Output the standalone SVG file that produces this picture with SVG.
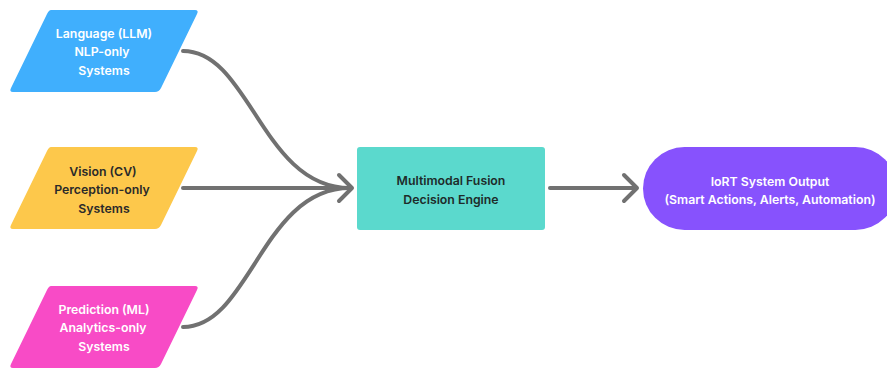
<svg xmlns="http://www.w3.org/2000/svg" width="887" height="368" viewBox="0 0 887 368">
<style>
.t{font-family:Inter,"Liberation Sans",sans-serif;font-size:12.3px;font-weight:600;text-anchor:middle;dominant-baseline:central}
.w{fill:#ffffff}.d{fill:#2a2a2a}
.c{fill:none;stroke:#717171;stroke-width:4;stroke-linecap:round;stroke-linejoin:round}
</style>
<rect width="887" height="368" fill="#ffffff"/>
<g id="connectors">
<path class="c" d="M183,51 C250,51 262,188 350,188"/>
<path class="c" d="M183,188 L351,188"/>
<path class="c" d="M183,327 C250,327 262,188 350,188"/>
<path class="c" d="M339,175 L352,188 L339,201"/>
<path class="c" d="M550,188 L636,188"/>
<path class="c" d="M624,175 L637,188 L624,201"/>
</g>
<g id="language">
<path d="M51,10 L195,10 Q199,10 197,14 L161,88 Q159,92 155,92 L13,92 Q9,92 11,88 L47,14 Q49,10 51,10 Z" fill="#40affd"/>
<text class="t w" x="104" y="33">Language (LLM)</text>
<text class="t w" x="102" y="51.5">NLP-only</text>
<text class="t w" x="104" y="70">Systems</text>
</g>
<g id="vision">
<path d="M51,147 L195,147 Q199,147 197,151 L161,225 Q159,229 155,229 L13,229 Q9,229 11,225 L47,151 Q49,147 51,147 Z" fill="#fdc84b"/>
<text class="t d" x="103" y="171">Vision (CV)</text>
<text class="t d" x="102" y="189.5">Perception-only</text>
<text class="t d" x="104" y="208">Systems</text>
</g>
<g id="prediction">
<path d="M51,286 L195,286 Q199,286 197,290 L161,364 Q159,368 155,368 L13,368 Q9,368 11,364 L47,290 Q49,286 51,286 Z" fill="#f84bc6"/>
<text class="t w" x="104" y="309">Prediction (ML)</text>
<text class="t w" x="103" y="327.5">Analytics-only</text>
<text class="t w" x="104" y="346">Systems</text>
</g>
<g id="fusion">
<rect x="357" y="147" width="188" height="83" rx="3" fill="#5bd9cd"/>
<text class="t" fill="#1e2b2a" x="451" y="180">Multimodal Fusion</text>
<text class="t" fill="#1e2b2a" x="451" y="199">Decision Engine</text>
</g>
<g id="output">
<rect x="643" y="147" width="254" height="83" rx="41.5" fill="#8752fd"/>
<text class="t w" x="770" y="181">IoRT System Output</text>
<text class="t w" x="770" y="199">(Smart Actions, Alerts, Automation)</text>
</g>
</svg>
